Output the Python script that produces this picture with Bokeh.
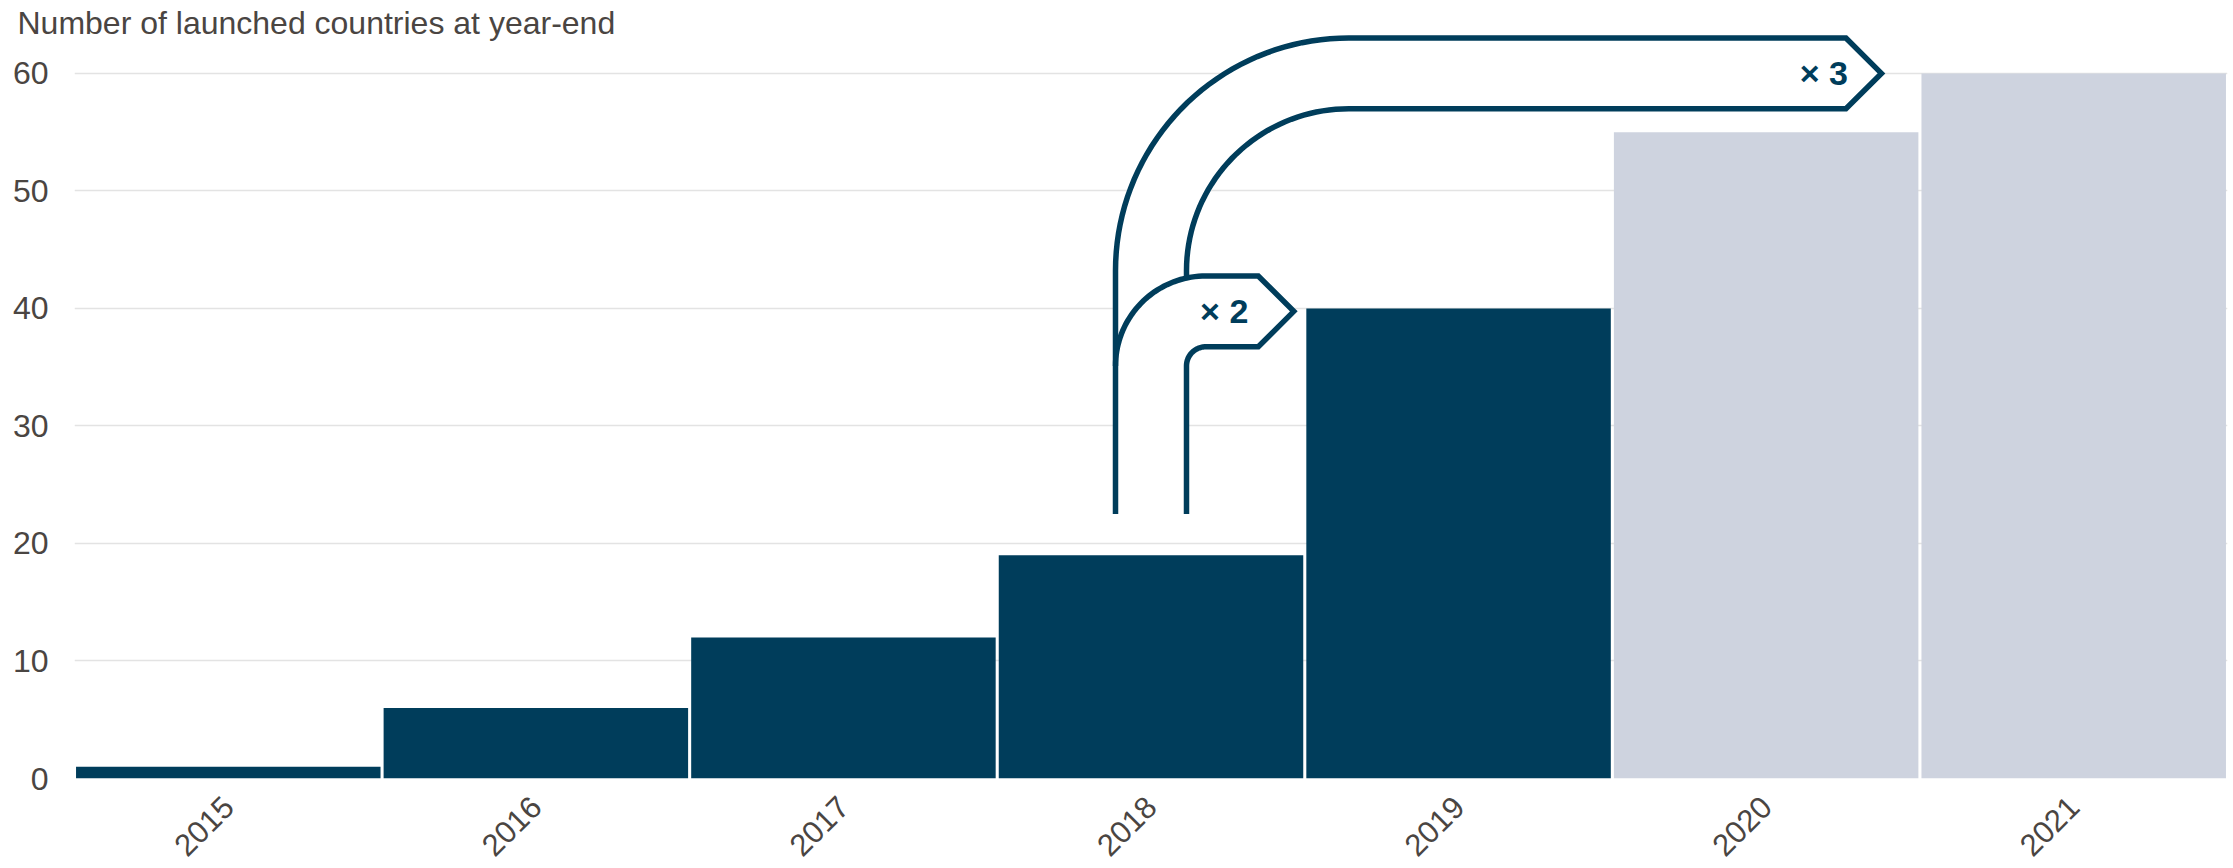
import math
import numpy as np
from bokeh.plotting import figure
from bokeh.models import Range1d, FixedTicker, Title, ColumnDataSource
from bokeh.core.properties import value
from bokeh.embed import file_html
from bokeh.resources import INLINE

# ---------------- data ----------------
years = ["2015", "2016", "2017", "2018", "2019", "2020", "2021"]
launched = [1, 6, 12, 19, 40, 55, 60]
is_forecast = [False, False, False, False, False, True, True]
y_ticks = [0, 10, 20, 30, 40, 50, 60]
title_text = "Number of launched countries at year-end"

# growth callouts: from the 2018 bar to later years
callout_from = "2018"
callout_labels = ["× 2", "× 3"]
callout_levels = [39.75, 60]      # value at which each arrow points

# ---------------- style / layout ----------------
W, H = 2233, 868
LEFT, RIGHT_PAD, TOP, BOTTOM = 74, 6, 30, 88
DARK = "#003d5b"
LIGHT = "#ced3df"
TXT = "#4a4542"
FONT = "Liberation Sans"

frame_w = W - LEFT - RIGHT_PAD
frame_h = H - BOTTOM - TOP
n = len(years)
PXX = frame_w / n                    # px per category
PXY = 707.0 / 60                     # px per unit (60 sits ~73px from canvas top)
y_top_val = frame_h / PXY

# canvas-px helpers (y measured from canvas top)
def dx(px):
    return (px - LEFT) / PXX - 0.5

def dy(py):
    return (TOP + frame_h - py) / PXY

def sx(x):
    return LEFT + (x + 0.5) * PXX

def sy(v):
    return TOP + frame_h - v * PXY

p = figure(width=W, height=H, output_backend="svg", toolbar_location=None,
           x_range=Range1d(-0.5, n - 0.5), y_range=Range1d(0, y_top_val),
           min_border_left=LEFT, min_border_right=RIGHT_PAD,
           min_border_top=TOP, min_border_bottom=BOTTOM)
p.outline_line_color = None
p.background_fill_color = "white"
p.border_fill_color = "white"
p.xgrid.grid_line_color = None
p.ygrid.ticker = FixedTicker(ticks=y_ticks)
p.ygrid.grid_line_color = "#e3e3e3"
p.ygrid.grid_line_width = 1.5

# axes
p.yaxis.ticker = FixedTicker(ticks=y_ticks)
p.yaxis.axis_line_color = None
p.yaxis.major_tick_line_color = None
p.yaxis.minor_tick_line_color = None
p.yaxis.major_tick_out = 0
p.yaxis.major_tick_in = 0
p.yaxis.major_label_standoff = 26
p.yaxis.major_label_text_font = FONT
p.yaxis.major_label_text_font_size = "32px"
p.yaxis.major_label_text_color = TXT

p.xaxis.ticker = FixedTicker(ticks=list(range(n)))
p.xaxis.major_label_overrides = {i: y for i, y in enumerate(years)}
p.xaxis.axis_line_color = None
p.xaxis.major_tick_line_color = None
p.xaxis.minor_tick_line_color = None
p.xaxis.major_tick_out = 0
p.xaxis.major_tick_in = 0
p.xaxis.major_label_orientation = math.pi / 4
p.xaxis.major_label_standoff = 23
p.xaxis.major_label_text_font = FONT
p.xaxis.major_label_text_font_size = "31px"
p.xaxis.major_label_text_color = TXT

# bars
src = ColumnDataSource(dict(
    x=list(range(n)), top=launched,
    color=[LIGHT if f else DARK for f in is_forecast]))
p.vbar(x="x", top="top", width=0.99, bottom=0, source=src,
       fill_color="color", line_color=None)

# ---------------- callout arrows (built in screen px from data anchors) -----
i0 = years.index(callout_from)
stem_c = sx(i0)
BAND = 71.0
x_out = stem_c - BAND / 2
x_in = stem_c + BAND / 2
stem_bot = sy(launched[i0] + 3.5)

def arc(cx, cy, r, a0, a1, k=40):
    t = np.linspace(a0, a1, k)
    return list(cx - r * np.cos(t)), list(cy - r * np.sin(t))

# x2 arrow (towards 2019)
yc2 = sy(callout_levels[0])
top2, bot2 = yc2 - BAND / 2, yc2 + BAND / 2
tip2 = sx(years.index("2019") - 0.5) - 11
sh2 = tip2 - BAND / 2
ri2 = 19.25
cx2, cy2 = x_in + ri2, bot2 + ri2
ax_o, ay_o = arc(cx2, cy2, ri2 + BAND, 0, math.pi / 2)
ax_i, ay_i = arc(cx2, cy2, ri2, math.pi / 2, 0)
out2_x = ax_o + [sh2, tip2, sh2] + ax_i + [x_in]
out2_y = ay_o + [top2, yc2, bot2] + ay_i + [stem_bot]
fill2_x = [x_out] + out2_x
fill2_y = [stem_bot] + out2_y

# x3 arrow (towards 2021)
yc3 = sy(callout_levels[1])
top3, bot3 = yc3 - BAND / 2, yc3 + BAND / 2
tip3 = sx(years.index("2021") - 0.5) - 38.5
sh3 = tip3 - BAND / 2
ri3 = 162.25
cx3, cy3 = x_in + ri3, bot3 + ri3
bx_o, by_o = arc(cx3, cy3, ri3 + BAND, 0, math.pi / 2)
bx_i, by_i = arc(cx3, cy3, ri3, math.pi / 2, 0)
out3_x = [x_out] + bx_o + [sh3, tip3, sh3] + bx_i + [x_in]
out3_y = [stem_bot] + by_o + [top3, yc3, bot3] + by_i + [top2]
fill3_x = out3_x + [x_in, x_in]
fill3_y = out3_y + [stem_bot, stem_bot]

for fx, fy in ((fill3_x, fill3_y), (fill2_x, fill2_y)):
    p.patch([dx(v) for v in fx], [dy(v) for v in fy],
            fill_color="white", line_color=None)
p.multi_line([[dx(v) for v in out3_x], [dx(v) for v in out2_x]],
             [[dy(v) for v in out3_y], [dy(v) for v in out2_y]],
             line_color=DARK, line_width=5.5, line_join="miter")

p.text(x=[dx(sh2 - 10), dx(sh3 + 2)], y=[dy(yc2), dy(yc3)],
       text=callout_labels, text_align="right", text_baseline="middle",
       text_font=value(FONT), text_font_style="bold",
       text_font_size="34px", text_color=DARK)

# title: placed in the (tiny) top panel; negative standoff lets it sit
# lower, overlapping the top of the frame, unclipped
p.add_layout(Title(text=title_text, align="left", offset=17 - LEFT,
                   vertical_align="bottom", standoff=-21,
                   text_font=FONT, text_font_size="32px",
                   text_font_style="normal", text_color=TXT), "above")

open("out.html", "w").write(file_html(p, INLINE))
